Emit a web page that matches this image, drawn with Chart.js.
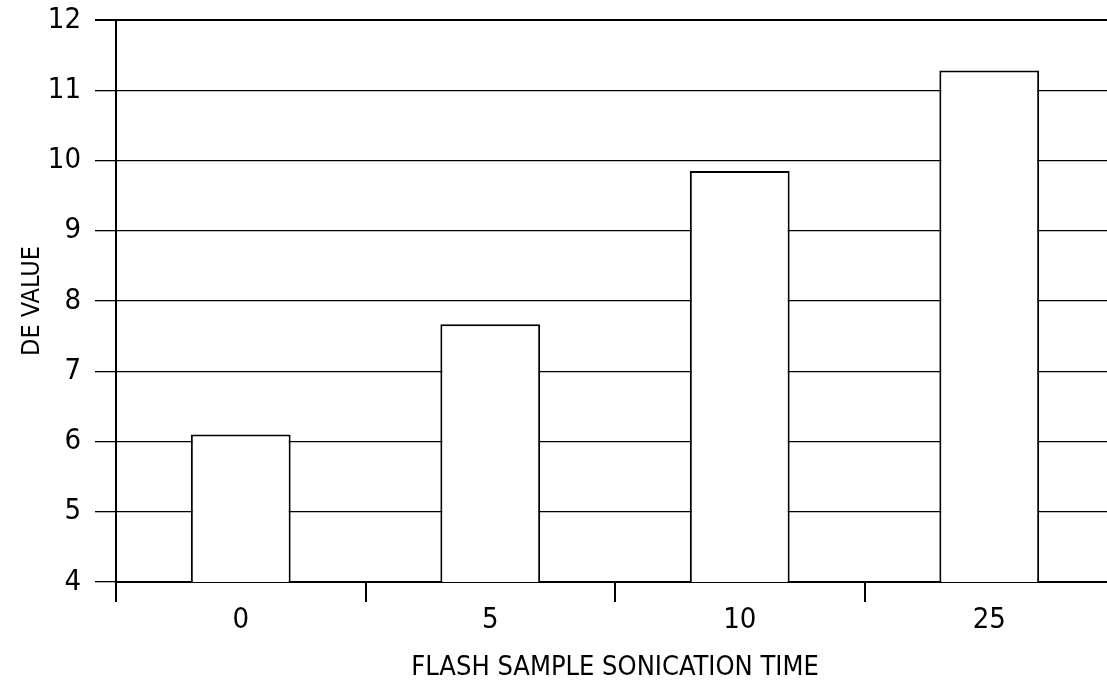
<!DOCTYPE html>
<html>
<head>
<meta charset="utf-8">
<script src="https://cdn.jsdelivr.net/npm/chart.js@4/dist/chart.umd.min.js"></script>
<style>
  html, body { margin: 0; padding: 0; background: #fff; overflow: hidden; width: 1107px; height: 688px; }
  #wrap { width: 1114px; height: 688px; }
</style>
</head>
<body>
<div id="wrap"><canvas id="c" width="1114" height="688"></canvas></div>
<script>
const categories = ['0', '5', '10', '25'];
const deValues = [6.1, 7.67, 9.85, 11.28];
const yTickValues = [4, 5, 6, 7, 8, 9, 10, 11, 12];
const xTitle = 'FLASH SAMPLE SONICATION TIME';
const yTitle = 'DE VALUE';

const FONT = "'Liberation Sans Narrow', 'DejaVu Sans Condensed', 'Arial Narrow', sans-serif";

new Chart(document.getElementById('c'), {
  type: 'bar',
  data: {
    labels: categories,
    datasets: [{
      data: deValues,
      backgroundColor: '#ffffff',
      borderColor: '#000000',
      borderWidth: 2,
      borderSkipped: false,
      categoryPercentage: 1.0,
      barPercentage: 0.4
    }]
  },
  options: {
    responsive: false,
    animation: false,
    devicePixelRatio: 1,
    layout: { padding: { top: 20, left: 0, right: 0, bottom: 0 } },
    plugins: { legend: { display: false }, tooltip: { enabled: false } },
    scales: {
      x: {
        offset: true,
        afterFit(scale) { scale.height = 106; scale.paddingLeft = 0; scale.paddingRight = 0; },
        grid: {
          offset: true,
          drawOnChartArea: false,
          drawTicks: true,
          tickLength: 20,
          color: '#000',
          lineWidth: 2
        },
        border: { display: true, color: '#000', width: 2 },
        ticks: {
          color: '#000',
          font: { family: FONT, size: 29 },
          padding: 1,
          maxRotation: 0
        },
        title: {
          display: true,
          text: xTitle,
          color: '#000',
          font: { family: FONT, size: 27 },
          padding: { top: 4, bottom: 4 }
        }
      },
      y: {
        min: 4,
        max: 12,
        afterFit(scale) { scale.width = 116; scale.paddingTop = 0; scale.paddingBottom = 0; },
        afterBuildTicks(scale) { scale.ticks = yTickValues.map(v => ({ value: v })); },
        grid: {
          drawTicks: true,
          tickLength: 21,
          color: '#000',
          lineWidth: ctx => (ctx.tick && ctx.tick.value === 12) ? 2 : 1.3
        },
        border: { display: true, color: '#000', width: 2 },
        ticks: {
          color: '#000',
          font: { family: FONT, size: 29 },
          padding: 14
        },
        title: {
          display: true,
          text: yTitle,
          color: '#000',
          font: { family: FONT, size: 25 },
          padding: { top: 17, bottom: 0 }
        }
      }
    }
  }
});
</script>
</body>
</html>
